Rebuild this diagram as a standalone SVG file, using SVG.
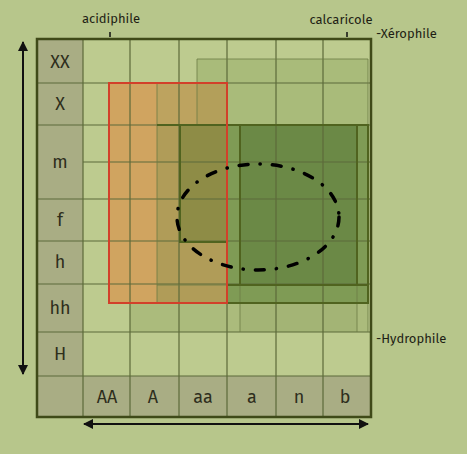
<svg xmlns="http://www.w3.org/2000/svg" width="467" height="454" viewBox="0 0 467 454">
<defs>
<style>
.lbl{font-family:"Fira Sans","Open Sans","DejaVu Sans",sans-serif;font-size:18px;fill:#2e2e1c;text-anchor:middle}
.ax{font-family:"Fira Sans","Open Sans","DejaVu Sans",sans-serif;font-size:13px;fill:#1e1e14}
.g{stroke:#5d6a3a;stroke-width:1.2;fill:none}
.gl{stroke:#6b7a45;stroke-width:1;fill:none;opacity:0.8}
.dk{stroke:#50631f;stroke-width:2;fill:none}
.arr{stroke:#111;stroke-width:2;fill:none}
</style>
<marker id="ah" viewBox="0 0 10 10" refX="9" refY="5" markerWidth="5" markerHeight="5" orient="auto-start-reverse">
<path d="M0,0 L10,5 L0,10 z" fill="#111"/>
</marker>
</defs>
<rect width="467" height="454" fill="#b7c68b"/>
<g id="cells">
<rect x="83" y="39" width="288" height="337" fill="#bdcb8f"/>
<rect x="37" y="39" width="46" height="378" fill="#a9ad84"/>
<rect x="83" y="376" width="288" height="41" fill="#a9ad84"/>
</g>
<g id="zones">
<rect x="197" y="59" width="171" height="66" fill="#a9bb7a"/>
<rect x="130" y="303" width="238" height="29" fill="#abbb7c"/>
<rect x="240" y="303" width="117" height="29" fill="#a3b475"/>
<rect x="109" y="83" width="48" height="220" fill="#d0a460"/>
<rect x="157" y="83" width="40" height="42" fill="#bda35f"/>
<rect x="197" y="83" width="30" height="42" fill="#b39f5a"/>
<rect x="157" y="125" width="70" height="178" fill="#b09c58"/>
<rect x="180" y="125" width="47" height="117" fill="#8e8c46"/>
<rect x="227" y="125" width="141" height="178" fill="#7f9b55"/>
<rect x="240" y="125" width="117" height="160" fill="#6b8946"/>
</g>
<g id="gridlines">
<path class="g" d="M83,39V417 M130,39V417 M179,39V417 M227,39V417 M276,39V417 M323,39V417"/>
<path class="g" d="M37,83H371 M37,125H371 M37,199H371 M37,241H371 M37,284H371 M37,332H371 M37,376H371 M83,162H371"/>
<path class="gl" d="M197,59H368V332 M197,59V125 M157,83V303 M130,303H368 M240,285V332 M357,285V332 M157,285H227"/>
<path class="dk" d="M157,125H227 M180,125V242H227 M227,125V303 M227,125H368V303H227 M240,125H357V285H240Z M227,285H368"/>
<rect x="109" y="83" width="118" height="220" fill="none" stroke="#d2402a" stroke-width="2"/>
<rect x="37" y="39" width="334" height="378" fill="none" stroke="#3f4a18" stroke-width="2.5"/>
</g>
<g id="niche">
<ellipse cx="258" cy="217" rx="81" ry="53" fill="none" stroke="#000" stroke-width="3.5" stroke-linecap="round" stroke-dasharray="9 12 0.3 12"/>
</g>
<g id="labels">
<text class="lbl" x="60" y="68">XX</text>
<text class="lbl" x="60" y="110">X</text>
<text class="lbl" x="60" y="168">m</text>
<text class="lbl" x="60" y="226">f</text>
<text class="lbl" x="60" y="268">h</text>
<text class="lbl" x="60" y="314">hh</text>
<text class="lbl" x="60" y="360">H</text>
<text class="lbl" x="107" y="403">AA</text>
<text class="lbl" x="153" y="403">A</text>
<text class="lbl" x="203" y="403">aa</text>
<text class="lbl" x="252" y="403">a</text>
<text class="lbl" x="299" y="403">n</text>
<text class="lbl" x="345" y="403">b</text>
<text class="ax" x="111" y="23" text-anchor="middle">acidiphile</text>
<text class="ax" x="341" y="24" text-anchor="middle">calcaricole</text>
<text class="ax" x="376" y="38">-Xérophile</text>
<text class="ax" x="376" y="343">-Hydrophile</text>
</g>
<g id="connectors">
<path d="M110,32V37 M347,32V37" stroke="#111" stroke-width="1.5"/>
<path class="arr" d="M23,42V374" marker-start="url(#ah)" marker-end="url(#ah)"/>
<path class="arr" d="M84,424H368" marker-start="url(#ah)" marker-end="url(#ah)"/>
</g>
</svg>
